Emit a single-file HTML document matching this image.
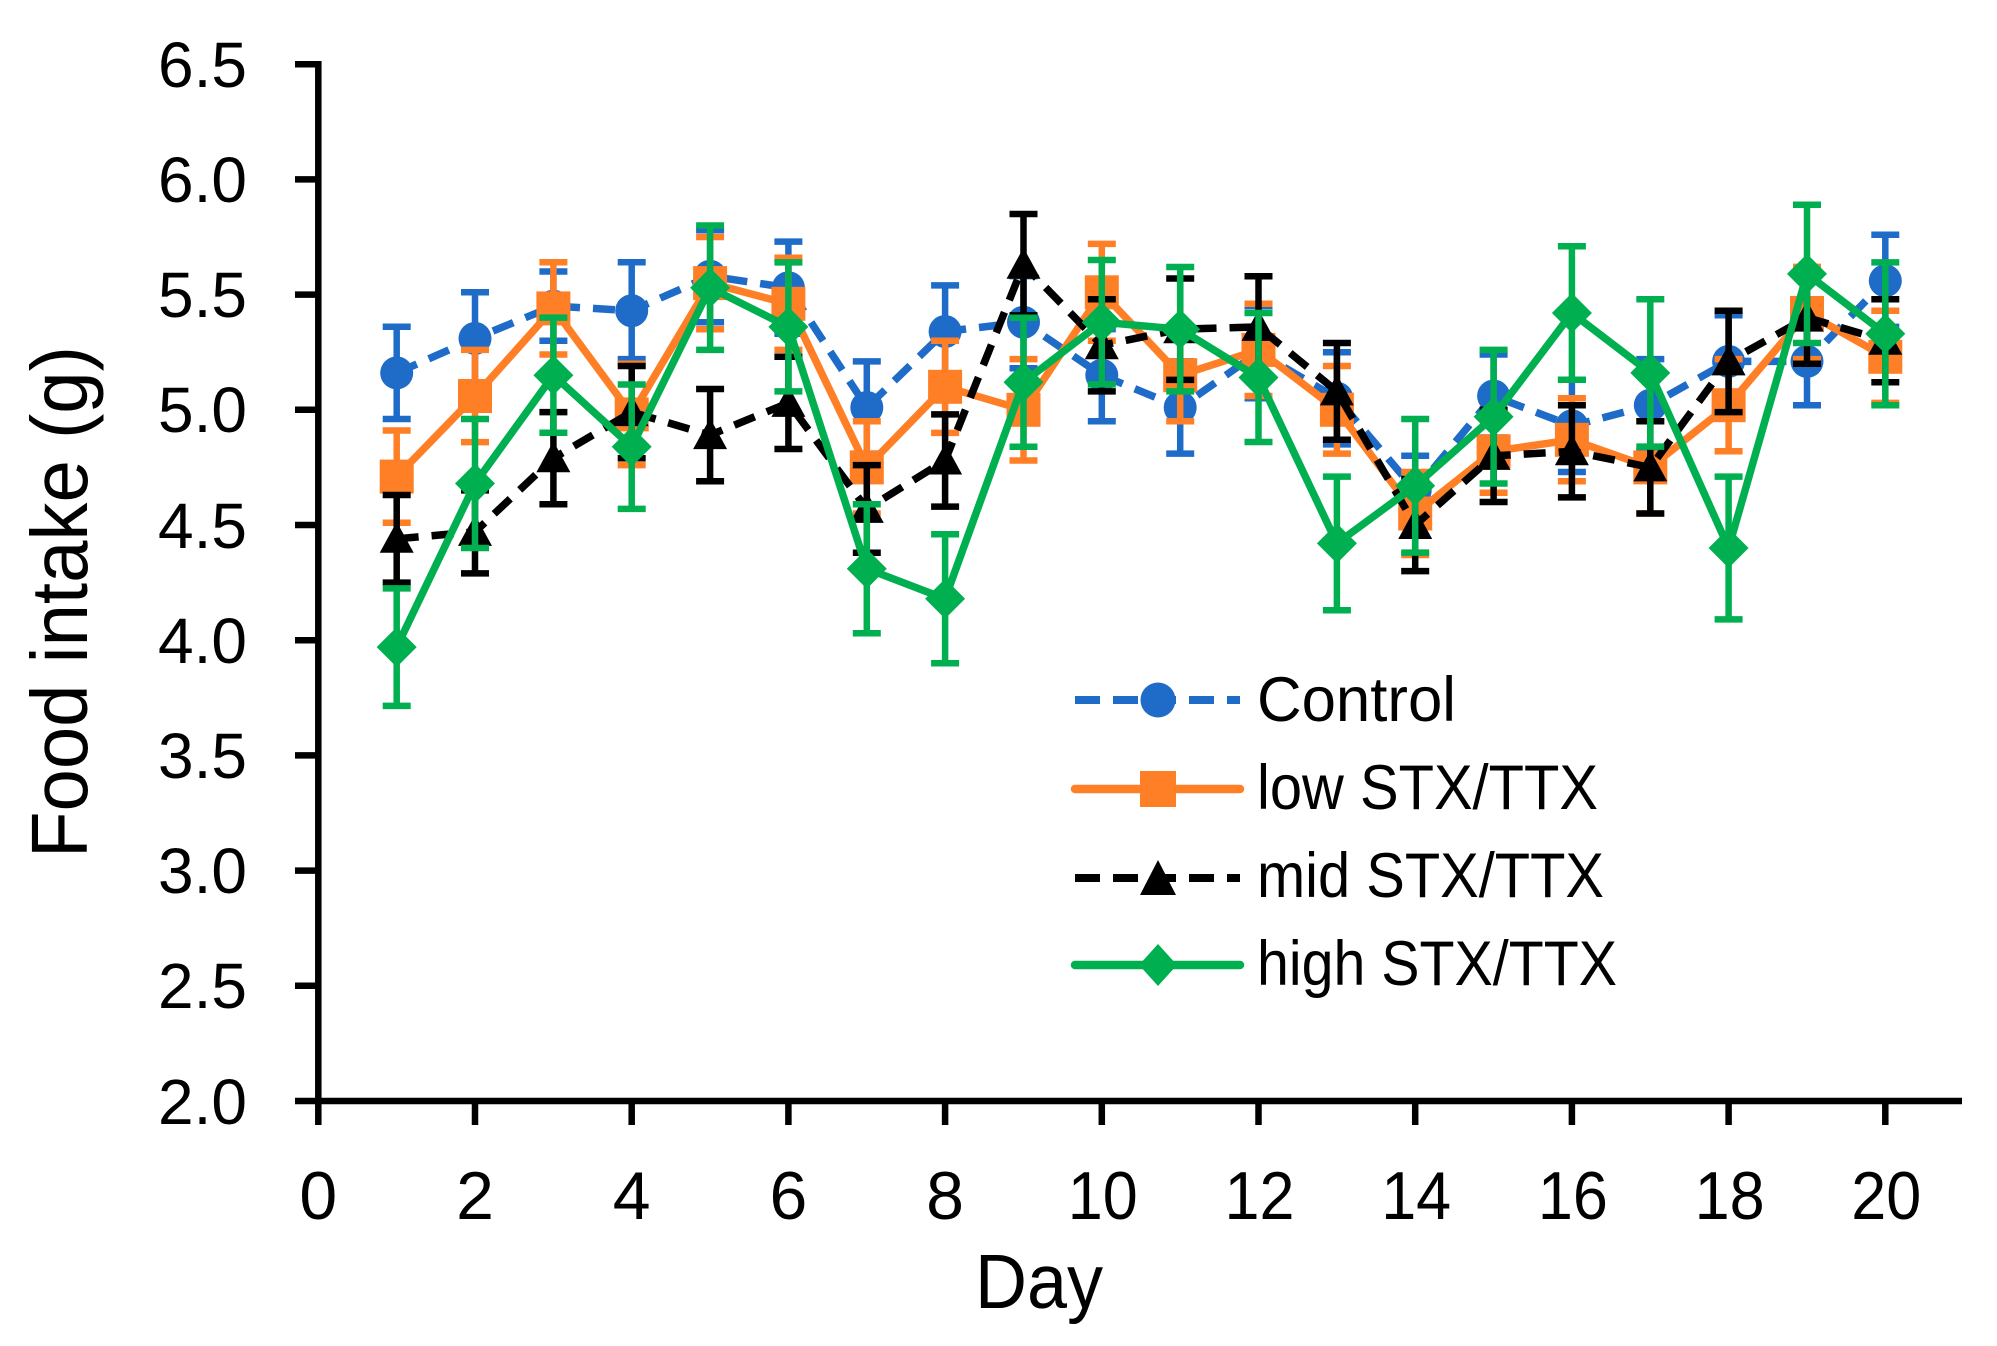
<!DOCTYPE html>
<html>
<head>
<meta charset="utf-8">
<style>
html,body{margin:0;padding:0;background:#fff;}
svg{display:block;}
text{font-family:"Liberation Sans",Arial,sans-serif;fill:#000;}
</style>
</head>
<body>
<svg width="1997" height="1346" viewBox="0 0 1997 1346" xmlns="http://www.w3.org/2000/svg">
<defs>
<rect id="sq" x="-17" y="-17" width="34" height="34"/>
<path id="tri" d="M0-17L17 14H-17z"/>
<path id="dia" d="M0-20L20 0 0 20-20 0z"/>
</defs>
<rect width="1997" height="1346" fill="#fff"/>

<!-- axes -->
<g stroke="#000" stroke-width="6.5" fill="none">
<path d="M318.3 61V1104"/>
<path d="M295 1101H1962"/>
<path d="M295 64.2H318M295 179.4H318M295 294.6H318M295 409.8H318M295 525H318M295 640.2H318M295 755.4H318M295 870.6H318M295 985.8H318"/>
<path d="M318.3 1101V1125M475 1101V1125M631.7 1101V1125M788.4 1101V1125M945.1 1101V1125M1101.8 1101V1125M1258.5 1101V1125M1415.2 1101V1125M1571.9 1101V1125M1728.6 1101V1125M1885.3 1101V1125"/>
</g>

<!-- y tick labels -->
<g font-size="64" text-anchor="end">
<text x="247" y="87">6.5</text>
<text x="247" y="202">6.0</text>
<text x="247" y="317">5.5</text>
<text x="247" y="432">5.0</text>
<text x="247" y="548">4.5</text>
<text x="247" y="663">4.0</text>
<text x="247" y="778">3.5</text>
<text x="247" y="893">3.0</text>
<text x="247" y="1008">2.5</text>
<text x="247" y="1124">2.0</text>
</g>
<!-- x tick labels -->
<g font-size="68" text-anchor="middle">
<text x="318.3" y="1219">0</text>
<text x="475" y="1219">2</text>
<text x="631.7" y="1219">4</text>
<text x="788.4" y="1219">6</text>
<text x="945.1" y="1219">8</text>
<text x="1102.8" y="1219" textLength="70" lengthAdjust="spacingAndGlyphs">10</text>
<text x="1259.5" y="1219" textLength="70" lengthAdjust="spacingAndGlyphs">12</text>
<text x="1416.2" y="1219" textLength="70" lengthAdjust="spacingAndGlyphs">14</text>
<text x="1572.9" y="1219" textLength="70" lengthAdjust="spacingAndGlyphs">16</text>
<text x="1729.6" y="1219" textLength="70" lengthAdjust="spacingAndGlyphs">18</text>
<text x="1886.3" y="1219" textLength="70" lengthAdjust="spacingAndGlyphs">20</text>
</g>
<text x="1039" y="1308" font-size="77" text-anchor="middle" textLength="128" lengthAdjust="spacingAndGlyphs">Day</text>
<text transform="translate(87,602) rotate(-90)" font-size="80" text-anchor="middle" textLength="512" lengthAdjust="spacingAndGlyphs">Food intake (g)</text>

<!-- Control -->
<g>
<path fill="none" stroke="#1E6CC8" stroke-width="6.5" d="M396.7 326.8V419M382.7 326.8h28M382.7 419h28M475 292.3V384.5M461 292.3h28M461 384.5h28M553.4 271.5V340.7M539.4 271.5h28M539.4 340.7h28M631.7 262.3V359.1M617.7 262.3h28M617.7 359.1h28M710.1 230.1V322.3M696.1 230.1h28M696.1 322.3h28M788.4 241.6V333.8M774.4 241.6h28M774.4 333.8h28M866.8 361.4V453.6M852.8 361.4h28M852.8 453.6h28M945.1 285.4V377.6M931.1 285.4h28M931.1 377.6h28M1023.5 276.1V368.3M1009.5 276.1h28M1009.5 368.3h28M1101.8 329.1V421.3M1087.8 329.1h28M1087.8 421.3h28M1180.2 361.4V453.6M1166.2 361.4h28M1166.2 453.6h28M1258.5 306.1V398.3M1244.5 306.1h28M1244.5 398.3h28M1336.9 352.2V444.4M1322.9 352.2h28M1322.9 444.4h28M1415.2 455.8V525M1401.2 455.8h28M1401.2 525h28M1493.6 354.5V437.5M1479.6 354.5h28M1479.6 437.5h28M1571.9 379.8V472M1557.9 379.8h28M1557.9 472h28M1650.3 359.1V451.3M1636.3 359.1h28M1636.3 451.3h28M1728.6 315.3V407.5M1714.6 315.3h28M1714.6 407.5h28M1807 317.6V405.2M1793 317.6h28M1793 405.2h28M1885.3 234.7V326.9M1871.3 234.7h28M1871.3 326.9h28"/>
<polyline fill="none" stroke="#1E6CC8" stroke-width="7.5" stroke-dasharray="22 13" stroke-linejoin="round" points="396.7,372.9 475,338.4 553.4,306.1 631.7,310.7 710.1,276.2 788.4,287.7 866.8,407.5 945.1,331.5 1023.5,322.2 1101.8,375.2 1180.2,407.5 1258.5,352.2 1336.9,398.3 1415.2,490.4 1493.6,396 1571.9,425.9 1650.3,405.2 1728.6,361.4 1807,361.4 1885.3,280.8"/>
<g fill="#1E6CC8">
<circle cx="396.7" cy="372.9" r="16.5"/><circle cx="475" cy="338.4" r="16.5"/><circle cx="553.4" cy="306.1" r="16.5"/><circle cx="631.7" cy="310.7" r="16.5"/><circle cx="710.1" cy="276.2" r="16.5"/><circle cx="788.4" cy="287.7" r="16.5"/><circle cx="866.8" cy="407.5" r="16.5"/><circle cx="945.1" cy="331.5" r="16.5"/><circle cx="1023.5" cy="322.2" r="16.5"/><circle cx="1101.8" cy="375.2" r="16.5"/><circle cx="1180.2" cy="407.5" r="16.5"/><circle cx="1258.5" cy="352.2" r="16.5"/><circle cx="1336.9" cy="398.3" r="16.5"/><circle cx="1415.2" cy="490.4" r="16.5"/><circle cx="1493.6" cy="396" r="16.5"/><circle cx="1571.9" cy="425.9" r="16.5"/><circle cx="1650.3" cy="405.2" r="16.5"/><circle cx="1728.6" cy="361.4" r="16.5"/><circle cx="1807" cy="361.4" r="16.5"/><circle cx="1885.3" cy="280.8" r="16.5"/>
</g>
</g>

<!-- low -->
<g>
<path fill="none" stroke="#FF7F27" stroke-width="6.5" d="M396.7 430.5V522.7M382.7 430.5h28M382.7 522.7h28M475 349.9V442.1M461 349.9h28M461 442.1h28M553.4 262.3V354.5M539.4 262.3h28M539.4 354.5h28M631.7 363.7V465.1M617.7 363.7h28M617.7 465.1h28M710.1 237V329.2M696.1 237h28M696.1 329.2h28M788.4 257.7V349.9M774.4 257.7h28M774.4 349.9h28M866.8 421.3V513.5M852.8 421.3h28M852.8 513.5h28M945.1 340.7V432.9M931.1 340.7h28M931.1 432.9h28M1023.5 359.1V460.5M1009.5 359.1h28M1009.5 460.5h28M1101.8 243.9V340.7M1087.8 243.9h28M1087.8 340.7h28M1180.2 329.1V421.3M1166.2 329.1h28M1166.2 421.3h28M1258.5 303.8V396M1244.5 303.8h28M1244.5 396h28M1336.9 366V453.6M1322.9 366h28M1322.9 453.6h28M1415.2 472V555M1401.2 472h28M1401.2 555h28M1493.6 409.8V492.8M1479.6 409.8h28M1479.6 492.8h28M1571.9 398.3V481.3M1557.9 398.3h28M1557.9 481.3h28M1650.3 421.3V513.5M1636.3 421.3h28M1636.3 513.5h28M1728.6 359.1V451.3M1714.6 359.1h28M1714.6 451.3h28M1807 266.9V359.1M1793 266.9h28M1793 359.1h28M1885.3 310.7V402.9M1871.3 310.7h28M1871.3 402.9h28"/>
<polyline fill="none" stroke="#FF7F27" stroke-width="7.5" stroke-linejoin="round" points="396.7,476.6 475,396 553.4,308.4 631.7,414.4 710.1,283.1 788.4,303.8 866.8,467.4 945.1,386.8 1023.5,409.8 1101.8,292.3 1180.2,375.2 1258.5,349.9 1336.9,409.8 1415.2,513.5 1493.6,451.3 1571.9,439.8 1650.3,467.4 1728.6,405.2 1807,313 1885.3,356.8"/>
<g fill="#FF7F27">
<use href="#sq" x="396.7" y="476.6"/><use href="#sq" x="475" y="396"/><use href="#sq" x="553.4" y="308.4"/><use href="#sq" x="631.7" y="414.4"/><use href="#sq" x="710.1" y="283.1"/><use href="#sq" x="788.4" y="303.8"/><use href="#sq" x="866.8" y="467.4"/><use href="#sq" x="945.1" y="386.8"/><use href="#sq" x="1023.5" y="409.8"/><use href="#sq" x="1101.8" y="292.3"/><use href="#sq" x="1180.2" y="375.2"/><use href="#sq" x="1258.5" y="349.9"/><use href="#sq" x="1336.9" y="409.8"/><use href="#sq" x="1415.2" y="513.5"/><use href="#sq" x="1493.6" y="451.3"/><use href="#sq" x="1571.9" y="439.8"/><use href="#sq" x="1650.3" y="467.4"/><use href="#sq" x="1728.6" y="405.2"/><use href="#sq" x="1807" y="313"/><use href="#sq" x="1885.3" y="356.8"/>
</g>
</g>

<!-- mid -->
<g>
<path fill="none" stroke="#000" stroke-width="6.5" d="M396.7 495V582.6M382.7 495h28M382.7 582.6h28M475 490.4V573.4M461 490.4h28M461 573.4h28M553.4 412.1V504.3M539.4 412.1h28M539.4 504.3h28M631.7 366V458.2M617.7 366h28M617.7 458.2h28M710.1 389V481.2M696.1 389h28M696.1 481.2h28M788.4 356.8V449M774.4 356.8h28M774.4 449h28M866.8 465.1V552.7M852.8 465.1h28M852.8 552.7h28M945.1 414.4V506.6M931.1 414.4h28M931.1 506.6h28M1023.5 214V315.4M1009.5 214h28M1009.5 315.4h28M1101.8 299.2V391.4M1087.8 299.2h28M1087.8 391.4h28M1180.2 278.5V379.9M1166.2 278.5h28M1166.2 379.9h28M1258.5 276.2V377.6M1244.5 276.2h28M1244.5 377.6h28M1336.9 343V439.8M1322.9 343h28M1322.9 439.8h28M1415.2 478.9V571.1M1401.2 478.9h28M1401.2 571.1h28M1493.6 409.8V502M1479.6 409.8h28M1479.6 502h28M1571.9 405.2V497.4M1557.9 405.2h28M1557.9 497.4h28M1650.3 421.3V513.5M1636.3 421.3h28M1636.3 513.5h28M1728.6 310.7V412.1M1714.6 310.7h28M1714.6 412.1h28M1807 271.5V363.7M1793 271.5h28M1793 363.7h28M1885.3 299.2V382.2M1871.3 299.2h28M1871.3 382.2h28"/>
<polyline fill="none" stroke="#000" stroke-width="7.5" stroke-dasharray="22 13" stroke-linejoin="round" points="396.7,538.8 475,531.9 553.4,458.2 631.7,412.1 710.1,435.1 788.4,402.9 866.8,508.9 945.1,460.5 1023.5,264.7 1101.8,345.3 1180.2,329.2 1258.5,326.9 1336.9,391.4 1415.2,525 1493.6,455.9 1571.9,451.3 1650.3,467.4 1728.6,361.4 1807,317.6 1885.3,340.7"/>
<g fill="#000">
<use href="#tri" x="396.7" y="538.8"/><use href="#tri" x="475" y="531.9"/><use href="#tri" x="553.4" y="458.2"/><use href="#tri" x="631.7" y="412.1"/><use href="#tri" x="710.1" y="435.1"/><use href="#tri" x="788.4" y="402.9"/><use href="#tri" x="866.8" y="508.9"/><use href="#tri" x="945.1" y="460.5"/><use href="#tri" x="1023.5" y="264.7"/><use href="#tri" x="1101.8" y="345.3"/><use href="#tri" x="1180.2" y="329.2"/><use href="#tri" x="1258.5" y="326.9"/><use href="#tri" x="1336.9" y="391.4"/><use href="#tri" x="1415.2" y="525"/><use href="#tri" x="1493.6" y="455.9"/><use href="#tri" x="1571.9" y="451.3"/><use href="#tri" x="1650.3" y="467.4"/><use href="#tri" x="1728.6" y="361.4"/><use href="#tri" x="1807" y="317.6"/><use href="#tri" x="1885.3" y="340.7"/>
</g>
</g>

<!-- high -->
<g>
<path fill="none" stroke="#00B050" stroke-width="6.5" d="M396.7 588.4V705.9M382.7 588.4h28M382.7 705.9h28M475 419V548M461 419h28M461 548h28M553.4 317.6V432.8M539.4 317.6h28M539.4 432.8h28M631.7 384.5V508.9M617.7 384.5h28M617.7 508.9h28M710.1 225.5V349.9M696.1 225.5h28M696.1 349.9h28M788.4 262.4V391.4M774.4 262.4h28M774.4 391.4h28M866.8 504.3V633.3M852.8 504.3h28M852.8 633.3h28M945.1 534.2V663.2M931.1 534.2h28M931.1 663.2h28M1023.5 317.7V446.7M1009.5 317.7h28M1009.5 446.7h28M1101.8 260V384.4M1087.8 260h28M1087.8 384.4h28M1180.2 267V391.4M1166.2 267h28M1166.2 391.4h28M1258.5 313V442M1244.5 313h28M1244.5 442h28M1336.9 476.6V610.2M1322.9 476.6h28M1322.9 610.2h28M1415.2 419V552.6M1401.2 419h28M1401.2 552.6h28M1493.6 349.9V483.5M1479.6 349.9h28M1479.6 483.5h28M1571.9 246.2V379.8M1557.9 246.2h28M1557.9 379.8h28M1650.3 299.2V446.6M1636.3 299.2h28M1636.3 446.6h28M1728.6 476.6V619.4M1714.6 476.6h28M1714.6 619.4h28M1807 204.8V343M1793 204.8h28M1793 343h28M1885.3 262.4V405.2M1871.3 262.4h28M1871.3 405.2h28"/>
<polyline fill="none" stroke="#00B050" stroke-width="7.5" stroke-linejoin="round" points="396.7,647.1 475,483.5 553.4,375.2 631.7,446.7 710.1,287.7 788.4,326.9 866.8,568.8 945.1,598.7 1023.5,382.2 1101.8,322.2 1180.2,329.2 1258.5,377.5 1336.9,543.4 1415.2,485.8 1493.6,416.7 1571.9,313 1650.3,372.9 1728.6,548 1807,273.9 1885.3,333.8"/>
<g fill="#00B050">
<use href="#dia" x="396.7" y="647.1"/><use href="#dia" x="475" y="483.5"/><use href="#dia" x="553.4" y="375.2"/><use href="#dia" x="631.7" y="446.7"/><use href="#dia" x="710.1" y="287.7"/><use href="#dia" x="788.4" y="326.9"/><use href="#dia" x="866.8" y="568.8"/><use href="#dia" x="945.1" y="598.7"/><use href="#dia" x="1023.5" y="382.2"/><use href="#dia" x="1101.8" y="322.2"/><use href="#dia" x="1180.2" y="329.2"/><use href="#dia" x="1258.5" y="377.5"/><use href="#dia" x="1336.9" y="543.4"/><use href="#dia" x="1415.2" y="485.8"/><use href="#dia" x="1493.6" y="416.7"/><use href="#dia" x="1571.9" y="313"/><use href="#dia" x="1650.3" y="372.9"/><use href="#dia" x="1728.6" y="548"/><use href="#dia" x="1807" y="273.9"/><use href="#dia" x="1885.3" y="333.8"/>
</g>
</g>

<!-- legend -->
<g>
<path d="M1075 700H1240" stroke="#1E6CC8" stroke-width="8" stroke-dasharray="25 13" fill="none"/>
<circle cx="1158" cy="700" r="17.5" fill="#1E6CC8"/>
<path d="M1075 789H1240" stroke="#FF7F27" stroke-width="8.5" stroke-linecap="round" fill="none"/>
<rect x="1140" y="771" width="36" height="36" fill="#FF7F27"/>
<path d="M1075 878H1240" stroke="#000" stroke-width="8" stroke-dasharray="25 13" fill="none"/>
<path d="M1158 860L1176 895H1140z" fill="#000"/>
<path d="M1075 965H1240" stroke="#00B050" stroke-width="8.5" stroke-linecap="round" fill="none"/>
<path d="M1158 944L1177 965 1158 986 1139 965z" fill="#00B050"/>
<g font-size="63">
<text x="1257" y="721" textLength="199" lengthAdjust="spacingAndGlyphs">Control</text>
<text x="1257" y="809" textLength="341" lengthAdjust="spacingAndGlyphs">low STX/TTX</text>
<text x="1257" y="897" textLength="347" lengthAdjust="spacingAndGlyphs">mid STX/TTX</text>
<text x="1257" y="985" textLength="360" lengthAdjust="spacingAndGlyphs">high STX/TTX</text>
</g>
</g>
</svg>
</body>
</html>
